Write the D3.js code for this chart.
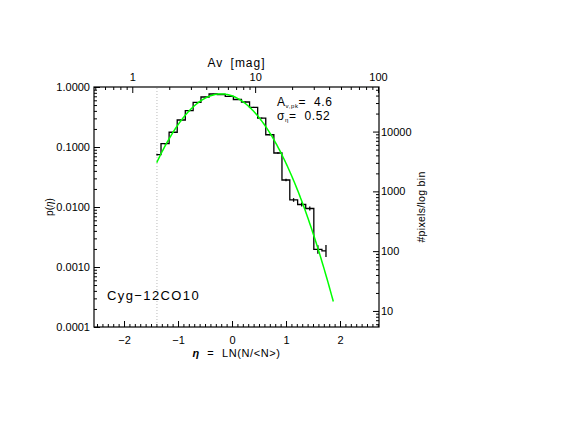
<!DOCTYPE html>
<html lang="en">
<head>
    <meta charset="UTF-8">
    <title>Cyg-12CO10 PDF</title>
    <style>
        body {
            margin: 0;
            padding: 0;
            background-color: #fff;
        }

        svg text {
            font-family: 'Liberation Sans', Arial, sans-serif;
            fill: #000;
        }

        .axis path.domain {
            display: none;
        }

        .axis line {
            stroke: #000;
            stroke-width: 1;
        }

        .axis text {
            font-size: 11px;
        }
    </style>
</head>
<body>
<div id="chart"></div>

<script src="https://d3js.org/d3.v7.min.js"></script>
<script>
    // histogram of eta = ln(N/<N>), drawn as IDL psym=10 steps
    const etaCenters = [-1.39, -1.24, -1.09, -0.94, -0.79, -0.65, -0.50, -0.35, -0.20, -0.05, 0.10,
        0.25, 0.40, 0.55, 0.70, 0.85, 1.00, 1.14, 1.29, 1.44, 1.59, 1.74];
    const pValues = [0.0744, 0.1135, 0.176, 0.282, 0.403, 0.556, 0.681, 0.764, 0.750, 0.700, 0.619,
        0.562, 0.459, 0.304, 0.160, 0.0794, 0.0282, 0.0131, 0.0110, 0.00944, 0.00196, 0.00185];
    // error bar half widths, in dex
    const pErrDex = [0.015, 0.012, 0.01, 0.008, 0.007, 0.006, 0.006, 0.005, 0.005, 0.006, 0.006,
        0.006, 0.007, 0.008, 0.01, 0.014, 0.022, 0.03, 0.033, 0.035, 0.07, 0.1];

    // lognormal fit
    const fitMu = -0.20;
    const fitSigma = 0.52;
    const fitRange = [-1.394, 1.876];
    const completenessEta = -1.39;

    const xDomain = [-2.556, 2.722];
    const yDomain = [1e-4, 1];
    const avDomain = [0.488, 101.9];       // top axis, Av [mag]
    const countDomain = [5.39, 55630];     // right axis, #pixels/log bin

    const xTickValues = [-2, -1, 0, 1, 2];
    const yTickValues = [1e-4, 1e-3, 1e-2, 1e-1, 1];
    const avTickValues = [1, 10, 100];
    const countTickValues = [10, 100, 1000, 10000];

    const width = 564;
    const height = 436;
    const plot = {left: 94, right: 379, top: 87, bottom: 327};

    const svg = d3.select("#chart")
        .append("svg")
        .attr("width", width)
        .attr("height", height);

    const x = d3.scaleLinear().domain(xDomain).range([plot.left, plot.right]);
    const y = d3.scaleLog().domain(yDomain).range([plot.bottom, plot.top]);
    const xTop = d3.scaleLog().domain(avDomain).range([plot.left, plot.right]);
    const yRight = d3.scaleLog().domain(countDomain).range([plot.bottom, plot.top]);

    function logMinors(domain) {
        const out = [];
        for (let e = Math.floor(Math.log10(domain[0])); e <= Math.ceil(Math.log10(domain[1])); e++) {
            for (let m = 2; m <= 9; m++) {
                const v = m * Math.pow(10, e);
                if (v >= domain[0] && v <= domain[1]) out.push(v);
            }
        }
        return out;
    }

    const xMinor = d3.range(-25, 28).map(function (i) {
        return i / 10;
    }).filter(function (v) {
        return v >= xDomain[0] && v <= xDomain[1] && Math.abs(v - Math.round(v)) > 1e-6;
    });

    // bottom axis
    svg.append("g").attr("class", "axis")
        .attr("transform", "translate(0," + plot.bottom + ")")
        .call(d3.axisBottom(x).tickValues(xTickValues).tickSize(-6).tickPadding(9)
            .tickFormat(function (d) {
                return d < 0 ? "\u2212" + Math.abs(d) : d;
            }));
    svg.append("g").attr("class", "axis")
        .attr("transform", "translate(0," + plot.bottom + ")")
        .call(d3.axisBottom(x).tickValues(xMinor).tickSize(-3).tickFormat(""));

    // top axis (Av)
    svg.append("g").attr("class", "axis")
        .attr("transform", "translate(0," + plot.top + ")")
        .call(d3.axisTop(xTop).tickValues(avTickValues).tickSize(-6).tickPadding(6)
            .tickFormat(d3.format("d")));
    svg.append("g").attr("class", "axis")
        .attr("transform", "translate(0," + plot.top + ")")
        .call(d3.axisTop(xTop).tickValues(logMinors(avDomain)).tickSize(-3).tickFormat(""));

    // left axis
    svg.append("g").attr("class", "axis")
        .attr("transform", "translate(" + plot.left + ",0)")
        .call(d3.axisLeft(y).tickValues(yTickValues).tickSize(-6).tickPadding(4)
            .tickFormat(d3.format(".4f")));
    svg.append("g").attr("class", "axis")
        .attr("transform", "translate(" + plot.left + ",0)")
        .call(d3.axisLeft(y).tickValues(logMinors(yDomain)).tickSize(-3).tickFormat(""));

    // right axis (counts)
    svg.append("g").attr("class", "axis")
        .attr("transform", "translate(" + plot.right + ",0)")
        .call(d3.axisRight(yRight).tickValues(countTickValues).tickSize(-6).tickPadding(2)
            .tickFormat(d3.format("d")));
    svg.append("g").attr("class", "axis")
        .attr("transform", "translate(" + plot.right + ",0)")
        .call(d3.axisRight(yRight).tickValues(logMinors(countDomain)).tickSize(-3).tickFormat(""));

    // frame
    svg.append("rect")
        .attr("x", plot.left)
        .attr("y", plot.top)
        .attr("width", plot.right - plot.left)
        .attr("height", plot.bottom - plot.top)
        .attr("fill", "none")
        .attr("stroke", "#000")
        .attr("stroke-width", 1.2);

    // completeness limit
    svg.append("line")
        .attr("x1", x(completenessEta)).attr("x2", x(completenessEta))
        .attr("y1", plot.top + 1).attr("y2", plot.bottom - 1)
        .attr("stroke", "#aaa")
        .attr("stroke-width", 0.8)
        .attr("stroke-dasharray", "1,2");

    const hist = etaCenters.map(function (e, i) {
        return {eta: e, p: pValues[i], err: pErrDex[i]};
    });

    // step histogram
    svg.append("path")
        .datum(hist)
        .attr("fill", "none")
        .attr("stroke", "#000")
        .attr("stroke-width", 1.3)
        .attr("d", d3.line()
            .curve(d3.curveStep)
            .x(function (d) {
                return x(d.eta);
            })
            .y(function (d) {
                return y(d.p);
            }));

    // error bars
    svg.append("g")
        .selectAll("line")
        .data(hist)
        .enter().append("line")
        .attr("x1", function (d) {
            return x(d.eta);
        })
        .attr("x2", function (d) {
            return x(d.eta);
        })
        .attr("y1", function (d) {
            return y(d.p * Math.pow(10, d.err));
        })
        .attr("y2", function (d) {
            return y(d.p / Math.pow(10, d.err));
        })
        .attr("stroke", "#000")
        .attr("stroke-width", 1.3);

    // lognormal fit curve
    const fitPoints = d3.range(0, 201).map(function (i) {
        const e = fitRange[0] + (fitRange[1] - fitRange[0]) * i / 200;
        const p = Math.exp(-Math.pow(e - fitMu, 2) / (2 * fitSigma * fitSigma)) /
            (Math.sqrt(2 * Math.PI) * fitSigma);
        return {eta: e, p: p};
    });

    svg.append("path")
        .datum(fitPoints)
        .attr("fill", "none")
        .attr("stroke", "#00ff00")
        .attr("stroke-width", 1.5)
        .attr("d", d3.line()
            .x(function (d) {
                return x(d.eta);
            })
            .y(function (d) {
                return y(d.p);
            }));

    // axis titles
    svg.append("text")
        .attr("x", (plot.left + plot.right) / 2)
        .attr("y", 67)
        .attr("text-anchor", "middle")
        .style("font-size", "12px")
        .style("letter-spacing", "1px")
        .style("word-spacing", "3px")
        .text("Av [mag]");

    svg.append("text")
        .attr("x", (plot.left + plot.right) / 2)
        .attr("y", 357)
        .attr("text-anchor", "middle")
        .style("font-size", "11px")
        .style("word-spacing", "4px")
        .style("letter-spacing", "0.6px")
        .html("<tspan font-style='italic' font-weight='bold'>\u03B7</tspan> = LN(N/&lt;N&gt;)");

    svg.append("text")
        .attr("transform", "translate(53," + (plot.top + plot.bottom) / 2 + ") rotate(-90)")
        .attr("text-anchor", "middle")
        .style("font-size", "10px")
        .html("p(<tspan font-style='italic'>\u03B7</tspan>)");

    svg.append("text")
        .attr("transform", "translate(425," + (plot.top + plot.bottom) / 2 + ") rotate(-90)")
        .attr("text-anchor", "middle")
        .style("font-size", "10.5px")
        .style("letter-spacing", "0.3px")
        .text("#pixels/log bin");

    // annotations
    svg.append("text")
        .attr("x", 277)
        .attr("y", 106)
        .style("font-size", "12px")
        .style("letter-spacing", "0.6px")
        .html("A<tspan dy='1.5' font-size='6px'>v,pk</tspan><tspan dy='-1.5'>= \u00A04.6</tspan>");

    svg.append("text")
        .attr("x", 277)
        .attr("y", 120)
        .style("font-size", "12px")
        .style("letter-spacing", "0.6px")
        .html("\u03C3<tspan dy='1.5' font-size='6px'>\u03B7</tspan><tspan dy='-1.5'>= \u00A00.52</tspan>");

    svg.append("text")
        .attr("x", 107)
        .attr("y", 300)
        .style("font-size", "13px")
        .style("letter-spacing", "1.4px")
        .text("Cyg\u221212CO10");
</script>
</body>
</html>
